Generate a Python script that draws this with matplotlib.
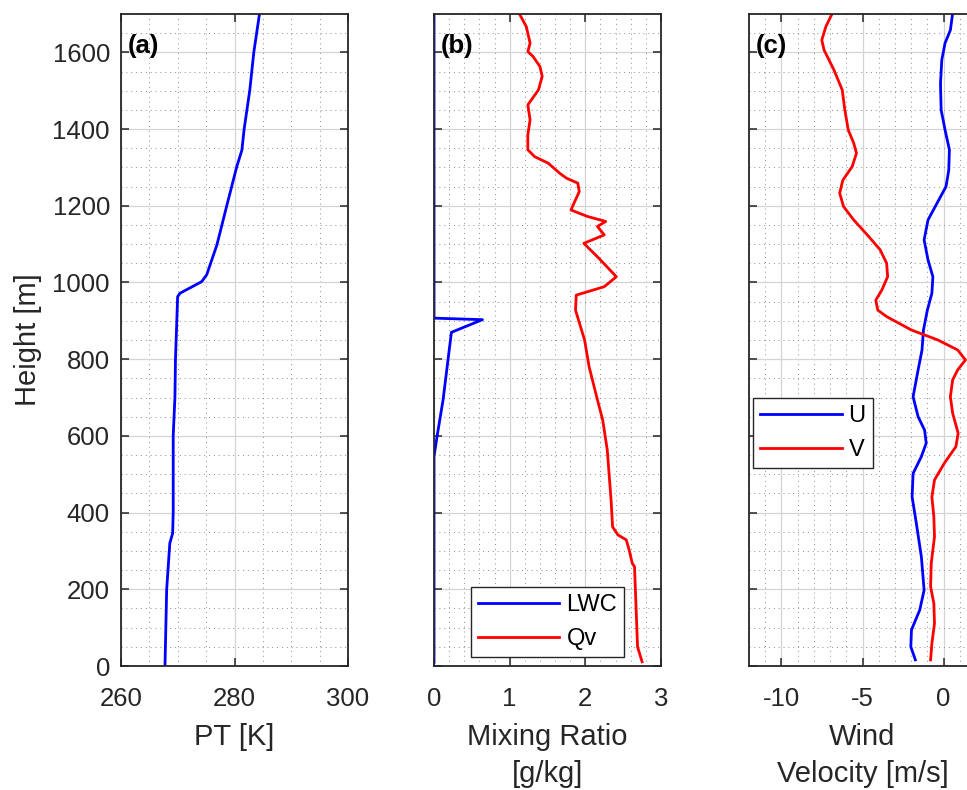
import numpy as np
import matplotlib.pyplot as plt
from matplotlib.ticker import MultipleLocator

plt.rcParams['font.family'] = ['Liberation Sans', 'DejaVu Sans']
plt.rcParams['axes.unicode_minus'] = False

# (a) potential temperature profile
pt_h = [0, 200, 320, 346, 400, 600, 700, 800, 963, 972, 1002, 1020, 1098, 1198,
        1302, 1345, 1400, 1502, 1600, 1700]
pt_k = [267.75, 268.05, 268.6, 269.1, 269.2, 269.2, 269.5, 269.6, 269.98, 270.4,
        274.2, 275.1, 276.9, 278.6, 280.4, 281.3, 281.7, 282.7, 283.4, 284.4]

# (b) liquid water content and vapour mixing ratio
lwc_h = [10, 546, 598, 694, 870, 903, 907, 1700]
lwc = [0, 0, 0.04, 0.12, 0.23, 0.64, 0.0, 0]

qv_h = [11, 50, 155, 259, 268, 302, 329, 342, 363, 433, 563, 641, 694, 780, 850,
        928, 967, 989, 1015, 1067, 1102, 1124, 1146, 1159, 1172, 1189, 1211, 1237,
        1259, 1272, 1285, 1311, 1328, 1346, 1385, 1424, 1463, 1502, 1537, 1563,
        1589, 1602, 1624, 1667, 1700]
qv = [2.75, 2.69, 2.67, 2.65, 2.62, 2.58, 2.54, 2.43, 2.36, 2.34, 2.29, 2.23, 2.16,
      2.05, 1.99, 1.87, 1.88, 2.25, 2.41, 2.16, 1.98, 2.25, 2.16, 2.27, 2.03, 1.81,
      1.86, 1.92, 1.90, 1.75, 1.66, 1.51, 1.33, 1.24, 1.24, 1.27, 1.24, 1.38, 1.43,
      1.40, 1.31, 1.24, 1.27, 1.22, 1.13]

# (c) wind components
u_h = [16, 50, 94, 146, 198, 285, 372, 441, 502, 546, 581, 615, 650, 702, 772,
       824, 876, 928, 972, 1015, 1059, 1111, 1163, 1207, 1250, 1293, 1346, 1398,
       1450, 1519, 1580, 1624, 1658, 1702]
u = [-1.74, -2.02, -1.98, -1.47, -1.2, -1.37, -1.68, -1.94, -1.88, -1.37, -1.07,
     -1.17, -1.57, -1.88, -1.57, -1.33, -1.24, -1.0, -0.72, -0.66, -0.96, -1.2,
     -0.96, -0.4, 0.15, 0.32, 0.36, 0.09, -0.15, -0.19, -0.11, 0.09, 0.42, 0.56]

v_h = [16, 59, 111, 163, 207, 268, 337, 389, 441, 485, 529, 572, 607, 659, 702,
       746, 772, 798, 824, 850, 876, 911, 928, 954, 980, 1015, 1050, 1085, 1120,
       1163, 1198, 1233, 1267, 1302, 1337, 1363, 1398, 1450, 1502, 1554, 1606,
       1632, 1667, 1702]
v = [-0.8, -0.72, -0.56, -0.6, -0.8, -0.76, -0.56, -0.6, -0.72, -0.56, 0.05, 0.76,
     0.9, 0.56, 0.42, 0.56, 0.87, 1.35, 0.87, -0.35, -1.98, -3.51, -4.06, -4.18,
     -3.81, -3.45, -3.51, -3.91, -4.62, -5.54, -6.17, -6.41, -6.21, -5.64, -5.37,
     -5.54, -5.88, -6.09, -6.25, -6.76, -7.37, -7.51, -7.26, -6.86]

txt = '#262626'
fig = plt.figure(figsize=(9.67, 7.9), dpi=100)

W = 227 / 967
B = 124 / 790
H = 652 / 790
ax_a = fig.add_axes([121 / 967, B, W, H])
ax_b = fig.add_axes([434 / 967, B, W, H])
ax_c = fig.add_axes([749 / 967, B, W, H])


def style(ax, xlim, xmajor, xminor, label, tag):
    ax.set_ylim(0, 1700)
    ax.set_xlim(*xlim)
    ax.xaxis.set_major_locator(MultipleLocator(xmajor))
    ax.xaxis.set_minor_locator(MultipleLocator(xminor))
    ax.yaxis.set_major_locator(MultipleLocator(200))
    ax.yaxis.set_minor_locator(MultipleLocator(50))
    ax.grid(True, which='major', color='#d4d4d4', lw=0.9, ls='-')
    ax.grid(True, which='minor', color='#8c8c8c', lw=0.7, ls=(0, (1, 4)))
    ax.set_axisbelow(True)
    ax.tick_params(which='major', direction='in', length=6, width=1.1,
                   top=True, right=True, labelsize=18.5, colors=txt, pad=15)
    ax.tick_params(axis='y', pad=8)
    ax.tick_params(which='minor', length=0)
    for s in ax.spines.values():
        s.set_color(txt)
        s.set_linewidth(1.3)
    ax.set_xlabel(label, fontsize=21, color=txt, linespacing=1.4)
    ax.xaxis.set_label_coords(0.5, -0.087)
    ax.text(0.03, 0.97, tag, transform=ax.transAxes, fontsize=18.5,
            fontweight='bold', va='top', ha='left', color='black')


def legend(ax, anchor, loc):
    ax.legend(loc=loc, bbox_to_anchor=anchor, fontsize=17, handlelength=3.45,
              handletextpad=0.3, fancybox=False, edgecolor=txt, framealpha=1,
              borderpad=0.3, labelspacing=0.5, borderaxespad=0)


ax_a.plot(pt_k, pt_h, color='blue', lw=2)
style(ax_a, (260, 300), 20, 5, 'PT [K]', '(a)')
ax_a.set_ylabel('Height [m]', fontsize=21, color=txt)
ax_a.yaxis.set_label_coords(-0.348, 0.5)

ax_b.plot(lwc, lwc_h, color='blue', lw=2, label='LWC')
ax_b.plot(qv, qv_h, color='red', lw=2, label='Qv')
style(ax_b, (0, 3), 1, 0.2, 'Mixing Ratio\n[g/kg]', '(b)')
ax_b.set_yticklabels([])
legend(ax_b, (0.838, 0.0138), 'lower right')

ax_c.plot(u, u_h, color='blue', lw=2, label='U')
ax_c.plot(v, v_h, color='red', lw=2, label='V')
style(ax_c, (-12, 2), 5, 1, 'Wind\nVelocity [m/s]', '(c)')
ax_c.set_yticklabels([])
legend(ax_c, (0.0175, 0.411), 'upper left')

fig.savefig('out.png', dpi=100)
